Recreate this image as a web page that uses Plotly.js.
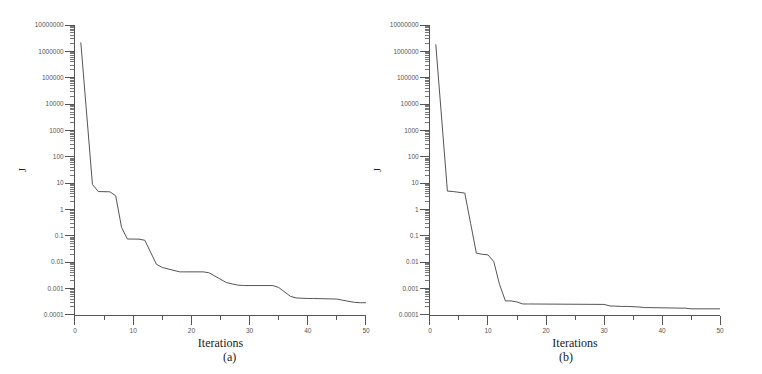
<!DOCTYPE html>
<html>
<head>
<meta charset="utf-8">
<script src="https://cdn.plot.ly/plotly-3.0.1.min.js"></script>
<style>
  html, body { margin: 0; padding: 0; background: #fff; }
  #plotArea { width: 762px; height: 374px; }
</style>
</head>
<body>
<div id="plotArea"></div>
<script>
// iterations 1..50
var iters = [];
for (var i = 1; i <= 50; i++) iters.push(i);

// (a) cost J per iteration
var jA = [2.2e6, 4500, 9, 4.8, 4.7, 4.7, 3.3, 0.21, 0.076, 0.075,
          0.075, 0.068, 0.025, 0.0083, 0.0063, 0.0055, 0.0048, 0.0043, 0.0043, 0.0043,
          0.0043, 0.0043, 0.0040, 0.0030, 0.0022, 0.0017, 0.0015, 0.00135, 0.0013, 0.0013,
          0.0013, 0.0013, 0.0013, 0.0013, 0.0011, 0.00073, 0.00051, 0.00044, 0.00042, 0.00042,
          0.00042, 0.00042, 0.00042, 0.00042, 0.0004, 0.00036, 0.00032, 0.0003, 0.00029, 0.00029];

// (b)
var jB = [1.85e6, 3000, 5.0, 4.8, 4.6, 4.2, 0.3, 0.022, 0.020, 0.019,
          0.0105, 0.0014, 0.00034, 0.00034, 0.00031, 0.00026, 0.00026, 0.00026, 0.00026, 0.00026,
          0.00026, 0.00026, 0.00026, 0.00026, 0.00025, 0.00025, 0.00025, 0.00025, 0.00025, 0.00025,
          0.00022, 0.00021, 0.00021, 0.00021, 0.00021, 0.0002, 0.00019, 0.00019, 0.00019, 0.00019,
          0.00019, 0.00019, 0.00018, 0.00018, 0.00017, 0.00017, 0.00017, 0.00017, 0.00017, 0.00017];

var yTicks = [0.0001, 0.001, 0.01, 0.1, 1, 10, 100, 1000, 10000, 100000, 1000000, 10000000];
var yTickText = ["0.0001", "0.001", "0.01", "0.1", "1", "10", "100", "1000", "10000", "100000", "1000000", "10000000"];
var panelLabels = ["(a)", "(b)"];

var lineStyle = {color: "#555", width: 1};

var trace1 = {x: iters, y: jA, mode: "lines", type: "scatter", line: lineStyle, xaxis: "x", yaxis: "y"};
var trace2 = {x: iters, y: jB, mode: "lines", type: "scatter", line: lineStyle, xaxis: "x2", yaxis: "y2"};

var tickFont = {family: "Arial, 'Liberation Sans', sans-serif", size: 6.5, color: "#555"};
var serif = "'Liberation Serif', 'Times New Roman', serif";
var titleFont = {family: serif, size: 12, color: "#222"};

function xAxis(dom, anchor) {
  return {
    domain: dom, anchor: anchor, range: [0, 50],
    tickvals: [0, 10, 20, 30, 40, 50],
    ticks: "outside", ticklen: 9, tickwidth: 1, tickcolor: "#555",
    minor: {tickvals: [5, 15, 25, 35, 45], ticks: "outside", ticklen: 4, tickcolor: "#555"},
    showline: true, linecolor: "#555", linewidth: 1,
    showgrid: false, zeroline: false,
    tickfont: tickFont,
    title: {text: "Iterations", font: titleFont, standoff: 5}
  };
}

function yAxis(anchor) {
  return {
    domain: [0.158, 0.933], anchor: anchor, type: "log", range: [-4, 7],
    tickvals: yTicks, ticktext: yTickText,
    ticks: "outside", ticklen: 9, tickwidth: 1, tickcolor: "#555",
    minor: {dtick: "D1", ticks: "outside", ticklen: 4, tickcolor: "#777"},
    showline: true, linecolor: "#555", linewidth: 1,
    showgrid: false, zeroline: false,
    tickfont: tickFont,
    title: {text: "J", font: {family: serif, size: 10, color: "#222"}, standoff: 6}
  };
}

var layout = {
  width: 762, height: 374,
  margin: {l: 0, r: 0, t: 0, b: 0},
  showlegend: false,
  paper_bgcolor: "#fff", plot_bgcolor: "#fff",
  xaxis: xAxis([0.0984, 0.4803], "y"),
  yaxis: yAxis("x"),
  xaxis2: xAxis([0.5643, 0.9449], "y2"),
  yaxis2: yAxis("x2"),
  annotations: [
    {text: panelLabels[0], x: 0.2894, y: 0.045, xref: "paper", yref: "paper", yanchor: "middle",
     showarrow: false, font: titleFont},
    {text: panelLabels[1], x: 0.7546, y: 0.045, xref: "paper", yref: "paper", yanchor: "middle",
     showarrow: false, font: titleFont}
  ]
};

Plotly.newPlot("plotArea", [trace1, trace2], layout, {staticPlot: true});
</script>
</body>
</html>
